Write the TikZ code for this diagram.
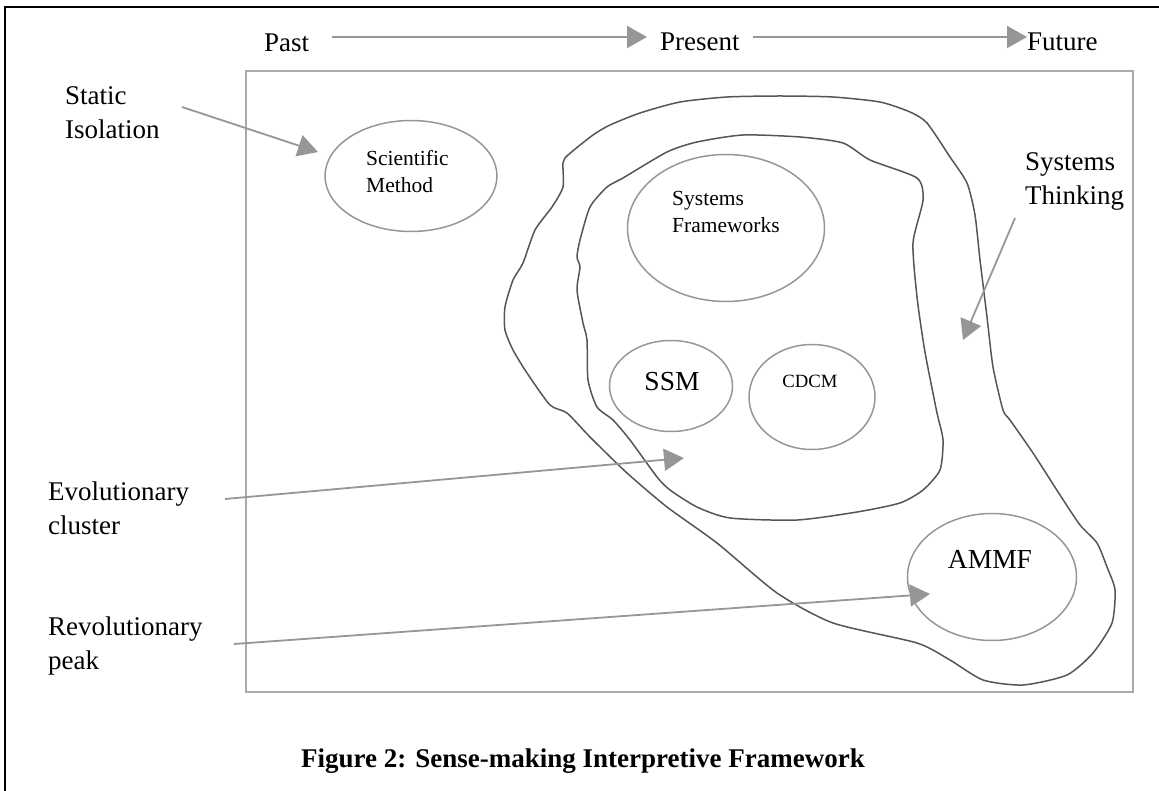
\documentclass[tikz,border=0pt]{standalone}
\usepackage{fontspec}
\setmainfont{Liberation Serif}
\usepackage{tikz}
\usetikzlibrary{positioning,arrows.meta,shapes.geometric,calc}
\definecolor{arrgray}{RGB}{150,150,150}
\definecolor{ovalgray}{RGB}{150,150,150}
\definecolor{boxgray}{RGB}{170,170,170}
\definecolor{blobgray}{RGB}{85,85,85}

\begin{document}
\begin{tikzpicture}[x=1pt, y=-1pt, font=\fontsize{27}{34}\selectfont,
  lbl/.style={inner sep=0pt, anchor=base west, align=left},
  small/.style={inner sep=0pt, anchor=base west, align=left, font=\fontsize{21.5}{27}\selectfont},
  oval/.style={draw=ovalgray, line width=1.5pt, ellipse, inner sep=0pt},
  arr/.style={draw=arrgray, line width=1.8pt, -{Triangle[length=20pt, width=22pt]}},
  blob/.style={draw=blobgray, line width=1.5pt}]
\useasboundingbox (0,0) rectangle (1159,791);
% page frame (only top and left edge show)
\draw[line width=2pt] (1159,7) -- (5,7) -- (5,791);
% time line
\node[lbl] (past) at (264,52) {Past};
\node[lbl] (present) at (660,51) {Present};
\node[lbl] (future) at (1027,51) {Future};
\coordinate (tl) at (0,37);
\draw[arr] ($(past.east |- tl)+(23,0)$) -- ($(present.west |- tl)+(-13,0)$);
\draw[arr] ($(present.east |- tl)+(13,0)$) -- (future.west |- tl);
% field
\draw[boxgray, line width=2pt] (246,71) rectangle (1133,692);
% systems thinking region
\draw[blob] plot[smooth cycle, tension=0.4] coordinates {
  (727,97) (780,96) (833,97) (880,102) (910,112) (927,123) (950,157) (967,183)
  (975,215) (980,260) (987,317) (993,367) (1003,410) (1010,420) (1033,453) (1060,495)
  (1080,525) (1097,543) (1107,567) (1115,590) (1112,623) (1093,653) (1067,675) (1023,685)
  (983,680) (950,660) (917,643) (833,623) (777,593) (717,543) (667,507) (627,473)
  (590,437) (567,413) (550,405) (527,373) (513,350) (505,330) (505,307) (513,280)
  (523,263) (535,230) (552,207) (563,187) (563,163) (568,155) (593,135) (610,125)
  (640,113) (680,102)};
% evolutionary cluster
\draw[blob] plot[smooth cycle, tension=0.4] coordinates {
  (743,135) (800,137) (843,143) (870,160) (917,178) (923,200) (913,243) (917,297)
  (923,340) (927,363) (937,413) (943,440) (940,470) (923,490) (900,503) (857,512)
  (797,520) (730,518) (697,507) (670,490) (657,477) (630,440) (613,420) (597,407)
  (588,380) (587,340) (583,323) (577,290) (580,267) (577,257) (580,240) (590,207)
  (607,187) (623,178) (667,152) (697,142)};
% ovals
\foreach \n/\x/\y/\w/\h in {scimeth/411/176/172/111, sysfw/726/228/197/147,
  ssm/671/386/123/91, cdcm/812/397/126/105, ammf/992/577/169/127}
  \node[oval, minimum width=\w pt, minimum height=\h pt] (\n) at (\x,\y) {};
% (base of a two-line node = its last line)
\node[small] (scimethtxt) at (366,193) {Scientific\\Method};
\node[small] (sysfwtxt) at (672,233) {Systems\\Frameworks};
\node[inner sep=0pt, anchor=base, font=\fontsize{27.5}{34}\selectfont] (ssmtxt) at (672,391) {SSM};
\node[inner sep=0pt, anchor=base, font=\fontsize{18.7}{24}\selectfont] (cdcmtxt) at (810,388) {CDCM};
\node[inner sep=0pt, anchor=base, font=\fontsize{27.5}{34}\selectfont] (ammftxt) at (990,568) {AMMF};
% labels
\node[lbl] (static) at (65,139) {Static\\Isolation};
\node[lbl] (systhink) at (1025,205) {Systems\\Thinking};
\node[lbl] (evo) at (48,534) {Evolutionary\\cluster};
\node[lbl] (revo) at (48,669) {Revolutionary\\peak};
\coordinate (statictail) at (182,107);
\coordinate (statictip) at (318,152);
\coordinate (systhinktail) at (1015,218);
\coordinate (systhinktip) at (963,340);
\coordinate (evotail) at (225,499);
\coordinate (evotip) at (684,458);
\coordinate (revotail) at (234,644);
\coordinate (revotip) at (930,594);
\draw[arr] (statictail) -- (statictip);
\draw[arr] (systhinktail) -- (systhinktip);
\draw[arr] (evotail) -- (evotip);
\draw[arr] (revotail) -- (revotip);
% caption
\node[inner sep=0pt, anchor=base, font=\bfseries\fontsize{27}{34}\selectfont] (caption) at (583,767) {Figure 2: Sense-making Interpretive Framework};
\end{tikzpicture}
\end{document}
